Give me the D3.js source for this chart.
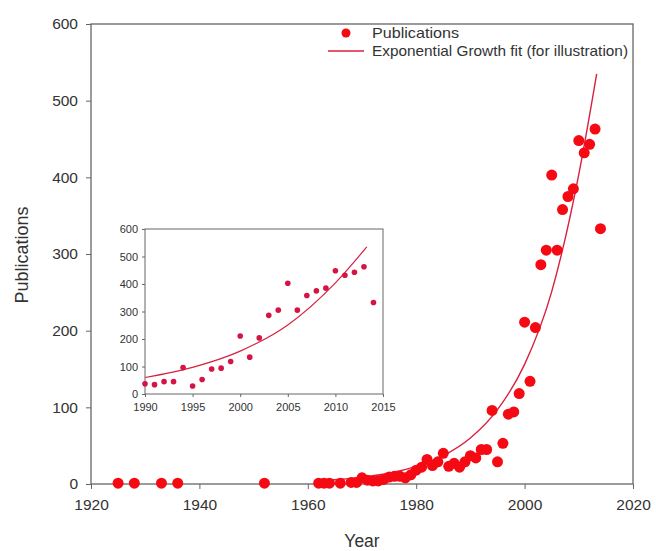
<!DOCTYPE html>
<html><head><meta charset="utf-8">
<script src="https://cdn.jsdelivr.net/npm/d3@7"></script>
<style>body{margin:0;background:#fff}svg{display:block;font-family:"Liberation Sans",Arial,sans-serif}</style>
</head><body>
<svg id="c" width="656" height="551"></svg>
<script>
// Data
const years = [1925,1928,1933,1936,1952,1962,1963,1964,1966,1968,1969,1970,1971,1972,1973,1974,1975,1976,1977,1978,1979,1980,1981,1982,1983,1984,1985,1986,1987,1988,1989,
  1990,1991,1992,1993,1994,1995,1996,1997,1998,1999,2000,2001,2002,2003,2004,2005,2006,2007,2008,2009,2010,2011,2012,2013,2014];
const publications = [1,1,1,1,1,1,1,1,1,2,2,8,5,4,4,6,9,10,10,8,12,18,22,32,24,29,40,23,27,22,29,
  37,34,45,45,96,29,53,91,94,118,211,134,204,286,305,403,305,358,375,385,448,432,443,463,333];
const fitYears = [1962,1965,1970,1975,1980,1985,1990,1995,2000,2005,2010,2013.3];
const fitValues = [4,5.5,9,14,23,37,60,97,156,251,404,535];
const xTicks = [1920,1940,1960,1980,2000,2020];
const yTicks = [0,100,200,300,400,500,600];
const insetXTicks = [1990,1995,2000,2005,2010,2015];
const insetYTicks = [0,100,200,300,400,500,600];
const legendLabels = ["Publications","Exponential Growth fit (for illustration)"];

const svg = d3.select("#c");
const axisCol = "#666", textCol = "#333";
const dotCol = "#f50a14", lineCol = "#d8203f", insetDot = "#d51443";
const data = years.map((y,i)=>({y, v:publications[i]}));
const fit = fitYears.map((y,i)=>({y, v:fitValues[i]}));

// Main chart
const x = d3.scaleLinear().domain([1920,2020]).range([91,633]);
const y = d3.scaleLinear().domain([0,600]).range([484,24]);

function styleAxis(g, fs){
  g.select(".domain").remove();
  g.selectAll("line").attr("stroke", axisCol);
  g.selectAll("text").attr("fill", textCol).attr("font-size", fs);
}
// frame
svg.append("rect").attr("x",91).attr("y",24).attr("width",633-91).attr("height",484-24)
  .attr("fill","none").attr("stroke",axisCol).attr("stroke-width",1.3);
svg.append("g").attr("transform","translate(0,484)")
  .call(d3.axisBottom(x).tickValues(xTicks).tickFormat(d3.format("d")).tickSize(5).tickPadding(10))
  .call(g=>styleAxis(g,15.5));
svg.append("g").attr("transform","translate(91,0)")
  .call(d3.axisLeft(y).tickValues(yTicks).tickSize(5).tickPadding(8))
  .call(g=>styleAxis(g,15.5));
svg.append("text").attr("x",362).attr("y",547).attr("text-anchor","middle")
  .attr("font-size",17.5).attr("fill",textCol).text("Year");
svg.append("text").attr("transform","translate(28,255) rotate(-90)").attr("text-anchor","middle")
  .attr("font-size",18).attr("fill",textCol).text("Publications");

const line = d3.line().x(d=>x(d.y)).y(d=>y(d.v)).curve(d3.curveMonotoneX);
svg.append("path").datum(fit).attr("d",line).attr("fill","none").attr("stroke",lineCol).attr("stroke-width",1.4);
svg.append("g").selectAll("circle").data(data).join("circle")
  .attr("cx",d=>x(d.y)).attr("cy",d=>y(d.v)).attr("r",5.5).attr("fill",dotCol);

// Legend
svg.append("circle").attr("cx",346).attr("cy",33).attr("r",4.5).attr("fill",dotCol);
svg.append("line").attr("x1",328).attr("x2",364).attr("y1",51).attr("y2",51).attr("stroke",lineCol).attr("stroke-width",1.4);
svg.selectAll(".lg").data(legendLabels).join("text").attr("class","lg")
  .attr("x",372).attr("y",(d,i)=>38+i*18).attr("font-size",15).attr("fill",textCol)
  .attr("textLength",(d,i)=>i===0?87:256).attr("lengthAdjust","spacingAndGlyphs").text(d=>d);

// Inset
const ix = d3.scaleLinear().domain([1990,2015]).range([145,383]);
const iy = d3.scaleLinear().domain([0,600]).range([394,229]);
const inset = svg.append("g");
inset.append("rect").attr("x",145).attr("y",229).attr("width",383-145).attr("height",394-229)
  .attr("fill","#fff").attr("stroke",axisCol).attr("stroke-width",1);
inset.append("g").attr("transform","translate(0,394)")
  .call(d3.axisBottom(ix).tickValues(insetXTicks).tickFormat(d3.format("d")).tickSize(3).tickPadding(6))
  .call(g=>styleAxis(g,11));
inset.append("g").attr("transform","translate(145,0)")
  .call(d3.axisLeft(iy).tickValues(insetYTicks).tickSize(3).tickPadding(4))
  .call(g=>styleAxis(g,11));
const iData = data.filter(d=>d.y>=1990);
const iFit = fit.filter(d=>d.y>=1990);
const iline = d3.line().x(d=>ix(d.y)).y(d=>iy(d.v)).curve(d3.curveMonotoneX);
inset.append("path").datum(iFit).attr("d",iline).attr("fill","none").attr("stroke",lineCol).attr("stroke-width",1.2);
inset.append("g").selectAll("circle").data(iData).join("circle")
  .attr("cx",d=>ix(d.y)).attr("cy",d=>iy(d.v)).attr("r",2.8).attr("fill",insetDot);
</script>
</body></html>
